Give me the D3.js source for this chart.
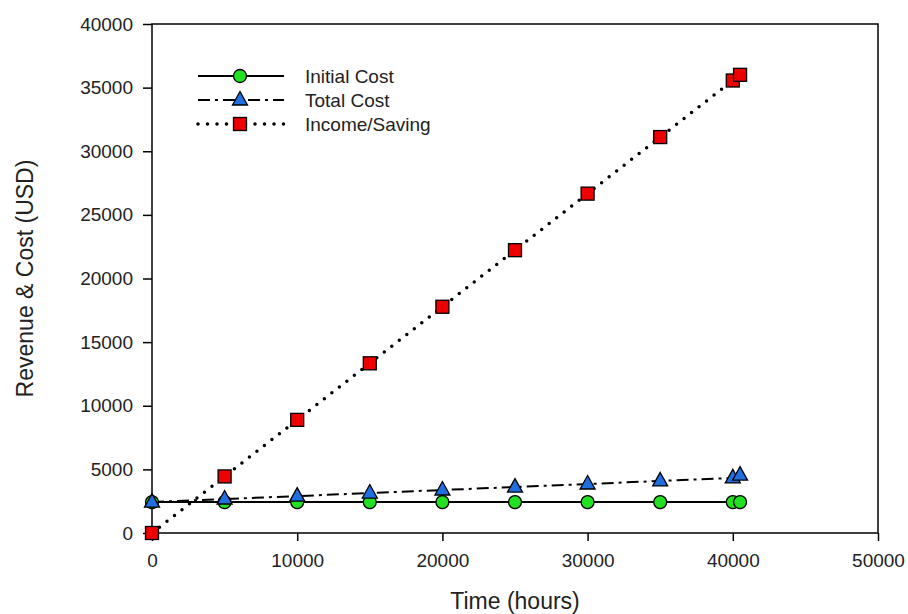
<!DOCTYPE html>
<html>
<head>
<meta charset="utf-8">
<title>Revenue & Cost</title>
<script src="https://cdn.jsdelivr.net/npm/d3@7"></script>
<style>
	html, body { margin: 0; padding: 0; background: white; }
	body { font-family: Arial, "Liberation Sans", sans-serif; }
	.axis text { font-size: 19px; fill: #222; font-family: Arial, "Liberation Sans", sans-serif; }
	.axis path, .axis line { stroke: #000; stroke-width: 1.5; }
</style>
</head>
<body>
<svg id="chart" width="908" height="614"></svg>
<script>

// data
var hours = [0, 5000, 10000, 15000, 20000, 25000, 30000, 35000, 40000, 40500];
var initialCost = [2430, 2430, 2430, 2430, 2430, 2430, 2430, 2430, 2430, 2430];
var totalCost = [2430, 2670, 2900, 3140, 3380, 3610, 3850, 4090, 4330, 4550];
var incomeSaving = [0, 4445, 8890, 13335, 17780, 22225, 26670, 31115, 35560, 36005];

var xTicks = [0, 10000, 20000, 30000, 40000, 50000];
var yTicks = [0, 5000, 10000, 15000, 20000, 25000, 30000, 35000, 40000];

var series = [
	{ name: "Initial Cost", values: initialCost, marker: "circle", fill: "#22e022", dash: null },
	{ name: "Total Cost", values: totalCost, marker: "triangle", fill: "#1f6fe0", dash: "12,5,3,5" },
	{ name: "Income/Saving", values: incomeSaving, marker: "square", fill: "#ee0000", dash: "0,9.5" }
];

var margin = { top: 24, right: 30, bottom: 81, left: 152 };
var width = 908 - margin.left - margin.right;
var height = 614 - margin.top - margin.bottom;

var svg = d3.select("#chart");
var g = svg.append("g").attr("transform", "translate(" + margin.left + "," + margin.top + ")");

var x = d3.scaleLinear().domain([0, 50000]).range([0, width]);
var y = d3.scaleLinear().domain([0, 40000]).range([height, 0]);

// frame
g.append("rect")
	.attr("width", width)
	.attr("height", height)
	.attr("fill", "none")
	.attr("stroke", "#000")
	.attr("stroke-width", 1.5);

g.append("g")
	.attr("class", "axis")
	.attr("transform", "translate(0," + height + ")")
	.call(d3.axisBottom(x).tickValues(xTicks).tickFormat(d3.format("d")).tickSizeOuter(0).tickSize(8).tickPadding(13));

g.append("g")
	.attr("class", "axis")
	.call(d3.axisLeft(y).tickValues(yTicks).tickFormat(d3.format("d")).tickSizeOuter(0).tickSize(9).tickPadding(10));

g.selectAll(".axis .domain").remove();

// axis titles
svg.append("text")
	.attr("x", margin.left + width / 2)
	.attr("y", 609)
	.attr("text-anchor", "middle")
	.style("font-size", "23px")
	.style("fill", "#222")
	.text("Time (hours)");

svg.append("text")
	.attr("transform", "translate(33," + (margin.top + height / 2) + ") rotate(-90)")
	.attr("text-anchor", "middle")
	.style("font-size", "23px")
	.style("fill", "#222")
	.text("Revenue & Cost (USD)");

var line = d3.line()
	.x(function(d) { return x(d[0]); })
	.y(function(d) { return y(d[1]); });

function drawMarker(sel, type, fill) {
	if (type === "circle") {
		sel.append("circle").attr("r", 6.5);
	} else if (type === "triangle") {
		sel.append("path").attr("d", "M0,-8.5L7.5,5L-7.5,5Z");
	} else {
		sel.append("rect").attr("x", -6.5).attr("y", -6.5).attr("width", 13).attr("height", 13);
	}
	sel.selectAll("*")
		.attr("fill", fill)
		.attr("stroke", "#000")
		.attr("stroke-width", 1.3);
}

function styleLine(sel, s) {
	sel.attr("fill", "none")
		.attr("stroke", "#000")
		.attr("stroke-width", s.marker === "square" ? 3.5 : 2)
		.attr("stroke-linecap", s.marker === "square" ? "round" : "butt")
		.attr("stroke-dasharray", s.dash);
}

// lines first, then markers on top
series.forEach(function(s) {
	var pts = hours.map(function(h, i) { return [h, s.values[i]]; });
	g.append("path").datum(pts).attr("d", line).call(styleLine, s);
});

series.forEach(function(s) {
	var pts = hours.map(function(h, i) { return [h, s.values[i]]; });
	g.selectAll(".m-" + s.marker)
		.data(pts)
		.enter().append("g")
		.attr("class", "m-" + s.marker)
		.attr("transform", function(d) { return "translate(" + x(d[0]) + "," + y(d[1]) + ")"; })
		.each(function() { drawMarker(d3.select(this), s.marker, s.fill); });
});

// legend
var legend = svg.append("g");
var legendY = [76, 100, 124];
series.forEach(function(s, i) {
	var row = legend.append("g").attr("transform", "translate(0," + legendY[i] + ")");
	row.append("path").attr("d", "M198,0L284,0").call(styleLine, s);
	var m = row.append("g").attr("transform", "translate(240,0)");
	drawMarker(m, s.marker, s.fill);
	row.append("text")
		.attr("x", 305)
		.attr("dy", "0.36em")
		.style("font-size", "19px")
		.style("fill", "#222")
		.text(s.name);
});

</script>
</body>
</html>
